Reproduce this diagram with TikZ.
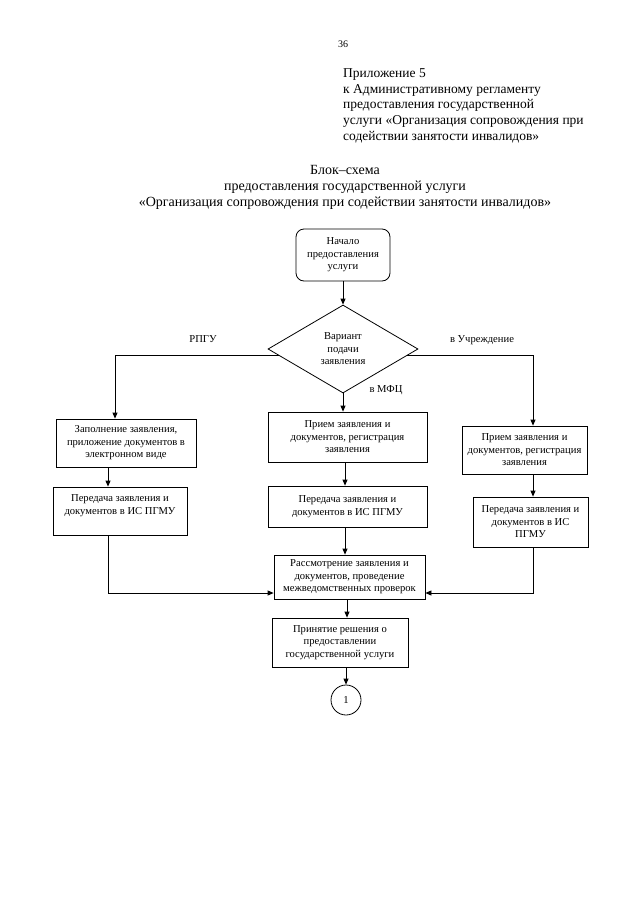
\documentclass[tikz,border=0pt]{standalone}
\usepackage{fontspec}
\setmainfont{Liberation Serif}
\usetikzlibrary{arrows.meta,shapes.geometric,calc}
\begin{document}
\begin{tikzpicture}[x=1pt,y=-1pt,
  box/.style={draw, line width=0.8pt, align=center, inner sep=0pt, font=\fontsize{10.6}{12.5}\selectfont},
  arr/.style={line width=0.8pt, -{Triangle[length=6pt,width=5pt]}},
  lbl/.style={font=\fontsize{10.6}{12.5}\selectfont, inner sep=0pt},
  hdr/.style={font=\fontsize{13.5}{15.7}\selectfont, inner sep=0pt},
  ttl/.style={font=\fontsize{14}{16}\selectfont, inner sep=0pt}]
\useasboundingbox[fill=white] (0,0) rectangle (640,905);

% header texts
\node[inner sep=0pt, font=\fontsize{10}{12}\selectfont] (pg) at (343,44) {36};
\node[hdr, align=left, anchor=north west] (app) at (343,68.5)
  {Приложение 5\\к Административному регламенту\\предоставления государственной\\услуги «Организация сопровождения при\\содействии занятости инвалидов»};
\node[ttl, align=center] (title) at (345,187)
  {Блок–схема\\предоставления государственной услуги\\«Организация сопровождения при содействии занятости инвалидов»};

% helper coordinates for connector columns
\coordinate (lc1) at (115,0);
\coordinate (lc2) at (108,0);
\coordinate (rc) at (533,0);
\coordinate (mc) at (345,0);
\coordinate (mc2) at (347,0);
\coordinate (bc) at (0,593);

% nodes
\node[box, rounded corners=8pt, minimum width=94pt, minimum height=52pt] (S) at (343,255) {Начало\\предоставления\\услуги};
\node[box, diamond, minimum width=150pt, minimum height=88pt, text depth=-2pt] (d) at (343,349) {Вариант\\подачи\\заявления};

\node[box, minimum width=140pt, minimum height=48pt] (L1) at (126,443) {Заполнение заявления,\\приложение документов в\\электронном виде};
\node[box, minimum width=134pt, minimum height=48pt] (L2) at (120,511) {Передача заявления и\\документов в ИС ПГМУ\\\mbox{}};

\node[box, minimum width=159pt, minimum height=50pt] (M1) at (347.5,437) {Прием заявления и\\документов, регистрация\\заявления};
\node[box, minimum width=159pt, minimum height=41pt] (M2) at (347.5,506.5) {Передача заявления и\\документов в ИС ПГМУ};

\node[box, minimum width=125pt, minimum height=48pt] (R1) at (524.5,450) {Прием заявления и\\документов, регистрация\\заявления};
\node[box, minimum width=115pt, minimum height=50pt] (R2) at (530.5,522) {Передача заявления и\\документов в ИС\\ПГМУ};

\node[box, minimum width=151pt, minimum height=44pt] (Rs) at (349.5,577) {Рассмотрение заявления и\\документов, проведение\\межведомственных проверок};
\node[box, minimum width=136pt, minimum height=49pt] (P) at (340,642.5) {Принятие решения о\\предоставлении\\государственной услуги};
\node[box, circle, minimum size=30pt] (c1) at (346,700) {1};

% labels
\node[lbl] (lrpgu) at (203,339) {РПГУ};
\node[lbl] (luch) at (482,340) {в Учреждение};
\node[lbl] (lmfc) at (386,390) {в МФЦ};

% connectors
\draw[arr] (S.south) -- (d.north);
\draw[arr] (d.186) -| (L1.north -| lc1);
\draw[arr] (d.-6) -| (R1.north -| rc);
\draw[arr] (d.south) -- (d.south |- M1.north);

\draw[arr] (L1.south -| lc2) -- (L2.north -| lc2);
\draw[arr] (M1.south -| mc) -- (M2.north -| mc);
\draw[arr] (R1.south -| rc) -- (R2.north -| rc);

\draw[arr] (L2.south -| lc2) |- (Rs.west |- bc);
\draw[arr] (M2.south -| mc) -- (Rs.north -| mc);
\draw[arr] (R2.south -| rc) |- (Rs.east |- bc);

\draw[arr] (Rs.south -| mc2) -- (P.north -| mc2);
\draw[arr] (P.south -| c1) -- (c1.north);
\end{tikzpicture}
\end{document}
